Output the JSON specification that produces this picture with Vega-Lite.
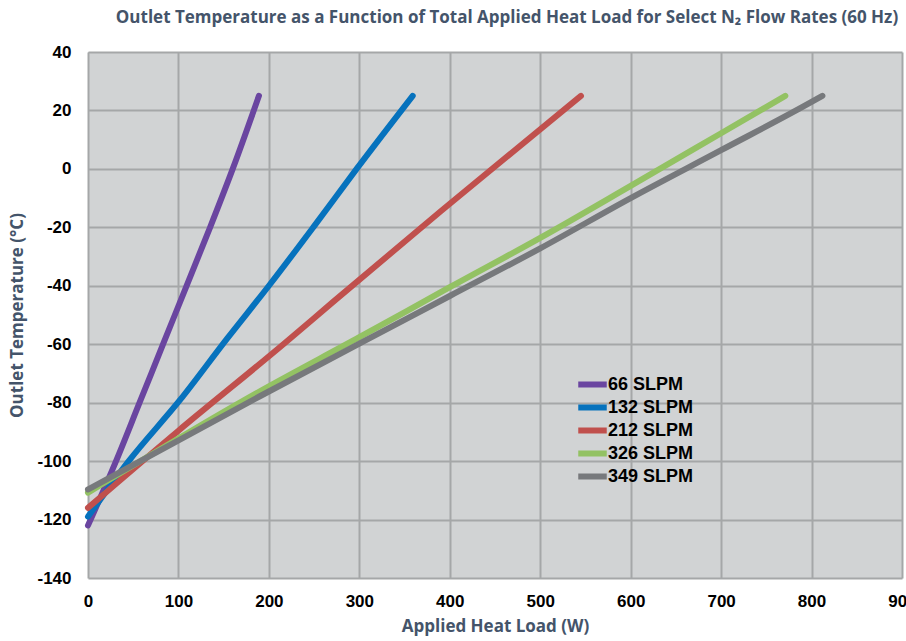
{
  "$schema": "https://vega.github.io/schema/vega-lite/v6.json",
  "width": 814,
  "height": 526,
  "autosize": {"type": "none"},
  "padding": {"left": 88, "top": 52, "right": 4, "bottom": 63},
  "background": "white",
  "title": {
    "text": "Outlet Temperature as a Function of Total Applied Heat Load for Select N₂ Flow Rates (60 Hz)",
    "font": "Open Sans",
    "fontSize": 17,
    "fontWeight": "bold",
    "color": "#44546A",
    "anchor": "middle",
    "dx": 12,
    "offset": 16
  },
  "config": {
    "view": {"fill": "#D1D3D4", "stroke": null},
    "axis": {
      "domain": false,
      "ticks": false,
      "grid": true,
      "gridColor": "#A5A7A8",
      "gridWidth": 2,
      "gridOpacity": 1,
      "labelFont": "Liberation Sans",
      "labelFontSize": 17,
      "labelFontWeight": "bold",
      "labelColor": "#000000",
      "titleFont": "Open Sans",
      "titleFontSize": 17,
      "titleFontWeight": "bold",
      "titleColor": "#44546A"
    }
  },
  "data": {
    "values": [
      {"series": "66 SLPM", "load": 0, "temp": -122},
      {"series": "66 SLPM", "load": 31, "temp": -100},
      {"series": "66 SLPM", "load": 57, "temp": -80},
      {"series": "66 SLPM", "load": 83, "temp": -60},
      {"series": "66 SLPM", "load": 109, "temp": -40},
      {"series": "66 SLPM", "load": 135, "temp": -20},
      {"series": "66 SLPM", "load": 160, "temp": 0},
      {"series": "66 SLPM", "load": 189, "temp": 25},
      {"series": "132 SLPM", "load": 0, "temp": -119},
      {"series": "132 SLPM", "load": 45, "temp": -100},
      {"series": "132 SLPM", "load": 102, "temp": -79},
      {"series": "132 SLPM", "load": 154, "temp": -58},
      {"series": "132 SLPM", "load": 200, "temp": -40},
      {"series": "132 SLPM", "load": 249, "temp": -20},
      {"series": "132 SLPM", "load": 297, "temp": 0},
      {"series": "132 SLPM", "load": 359, "temp": 25},
      {"series": "212 SLPM", "load": 0, "temp": -116},
      {"series": "212 SLPM", "load": 100, "temp": -89.6},
      {"series": "212 SLPM", "load": 218, "temp": -59.5},
      {"series": "212 SLPM", "load": 271, "temp": -45.5},
      {"series": "212 SLPM", "load": 390, "temp": -14.5},
      {"series": "212 SLPM", "load": 545, "temp": 25},
      {"series": "326 SLPM", "load": 0, "temp": -110.8},
      {"series": "326 SLPM", "load": 190, "temp": -76.1},
      {"series": "326 SLPM", "load": 300, "temp": -57.6},
      {"series": "326 SLPM", "load": 400, "temp": -40.5},
      {"series": "326 SLPM", "load": 500, "temp": -23.6},
      {"series": "326 SLPM", "load": 600, "temp": -5.8},
      {"series": "326 SLPM", "load": 700, "temp": 12.2},
      {"series": "326 SLPM", "load": 771, "temp": 25},
      {"series": "349 SLPM", "load": 0, "temp": -109.7},
      {"series": "349 SLPM", "load": 190, "temp": -77.8},
      {"series": "349 SLPM", "load": 300, "temp": -59.8},
      {"series": "349 SLPM", "load": 400, "temp": -43.5},
      {"series": "349 SLPM", "load": 500, "temp": -27.2},
      {"series": "349 SLPM", "load": 600, "temp": -10},
      {"series": "349 SLPM", "load": 700, "temp": 6.4},
      {"series": "349 SLPM", "load": 800, "temp": 22.9},
      {"series": "349 SLPM", "load": 812, "temp": 25}
    ]
  },
  "mark": {"type": "line", "strokeWidth": 6, "strokeCap": "round", "strokeJoin": "round", "interpolate": "monotone"},
  "encoding": {
    "x": {
      "field": "load",
      "type": "quantitative",
      "scale": {"domain": [0, 900], "nice": false, "zero": false},
      "axis": {
        "title": "Applied Heat Load (W)",
        "values": [0, 100, 200, 300, 400, 500, 600, 700, 800, 900],
        "labelPadding": 15,
        "titlePadding": 9,
        "labelFlush": false
      }
    },
    "y": {
      "field": "temp",
      "type": "quantitative",
      "scale": {"domain": [-140, 40], "nice": false, "zero": false},
      "axis": {
        "title": "Outlet Temperature (°C)",
        "values": [-140, -120, -100, -80, -60, -40, -20, 0, 20, 40],
        "labelExpr": "datum.value < 0 ? '-' + abs(datum.value) : '' + datum.value",
        "labelPadding": 17,
        "titlePadding": 10,
        "labelFlush": false
      }
    },
    "color": {
      "field": "series",
      "type": "nominal",
      "scale": {
        "domain": ["66 SLPM", "132 SLPM", "212 SLPM", "326 SLPM", "349 SLPM"],
        "range": ["#6A45A0", "#0672BD", "#C0504D", "#93C263", "#77797C"]
      },
      "legend": {
        "title": null,
        "orient": "none",
        "legendX": 494,
        "legendY": 322,
        "symbolType": "M-1.9,0H1.9",
        "symbolSize": 225,
        "symbolStrokeWidth": 6,
        "labelFont": "Liberation Sans",
        "labelFontSize": 18,
        "labelFontWeight": "bold",
        "labelColor": "#000000",
        "labelOffset": 5,
        "rowPadding": -3
      }
    },
    "order": {"field": "load", "type": "quantitative"}
  }
}
